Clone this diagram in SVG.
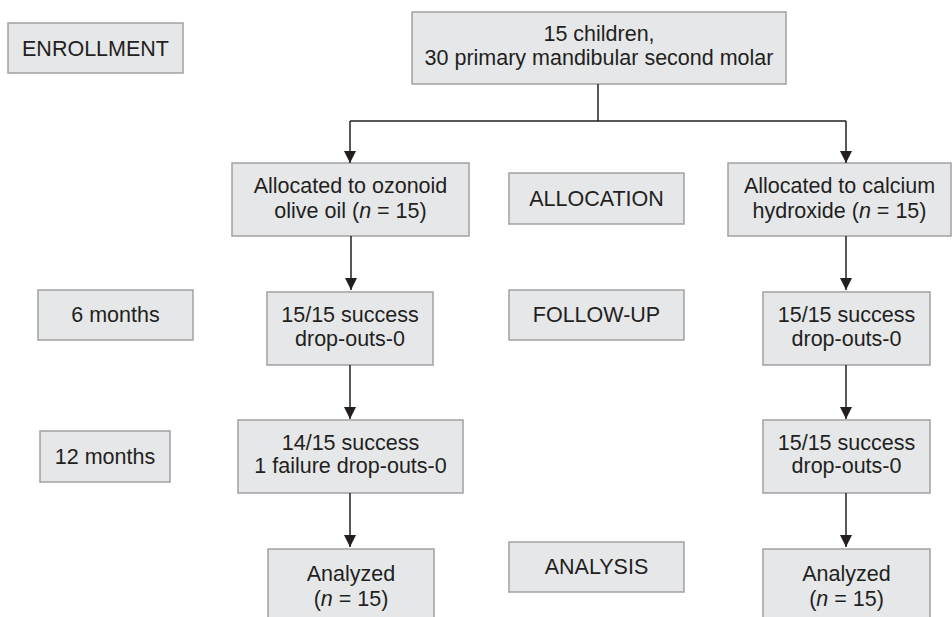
<svg xmlns="http://www.w3.org/2000/svg" width="952" height="617" viewBox="0 0 952 617">
<style>
.box{fill:#e6e7e9;stroke:#a0a1a3;stroke-width:1.5}
text{font-family:"Liberation Sans",Arial,sans-serif;font-size:21.5px;fill:#231f20;text-anchor:middle}
.ln{stroke:#231f20;stroke-width:1.5;fill:none}
</style>
<defs>
<marker id="ah" markerWidth="12" markerHeight="12" refX="12" refY="6" orient="auto" markerUnits="userSpaceOnUse">
<path d="M0,0 L12,6 L0,12 Z" fill="#231f20"/>
</marker>
</defs>
<g id="enrollment"><rect class="box" x="8" y="23" width="175" height="50"/><text x="95.5" y="56">ENROLLMENT</text></g>
<g id="top"><rect class="box" x="412" y="12" width="374" height="72"/><text x="599" y="41">15 children,</text><text x="599" y="65">30 primary mandibular second molar</text></g>
<g id="allocOzone"><rect class="box" x="232" y="163" width="237" height="73"/><text x="350.5" y="193">Allocated to ozonoid</text><text x="350.5" y="218">olive oil (<tspan font-style="italic">n</tspan> = 15)</text></g>
<g id="allocation"><rect class="box" x="509" y="173" width="175" height="51"/><text x="596.5" y="206">ALLOCATION</text></g>
<g id="allocCa"><rect class="box" x="728" y="163" width="223" height="73"/><text x="839.5" y="193">Allocated to calcium</text><text x="839.5" y="218">hydroxide (<tspan font-style="italic">n</tspan> = 15)</text></g>
<g id="six"><rect class="box" x="38" y="290" width="155" height="50"/><text x="115.5" y="322">6 months</text></g>
<g id="followup"><rect class="box" x="509" y="290" width="175" height="50"/><text x="596.5" y="322">FOLLOW-UP</text></g>
<g id="ozone6"><rect class="box" x="267" y="292" width="166" height="73"/><text x="350" y="322">15/15 success</text><text x="350" y="346">drop-outs-0</text></g>
<g id="ca6"><rect class="box" x="763" y="292" width="167" height="73"/><text x="846.5" y="322">15/15 success</text><text x="846.5" y="346">drop-outs-0</text></g>
<g id="twelve"><rect class="box" x="40" y="431" width="130" height="51"/><text x="105" y="464">12 months</text></g>
<g id="ozone12"><rect class="box" x="238" y="420" width="225" height="73"/><text x="350.5" y="450">14/15 success</text><text x="350.5" y="473">1 failure drop-outs-0</text></g>
<g id="ca12"><rect class="box" x="763" y="420" width="167" height="73"/><text x="846.5" y="450">15/15 success</text><text x="846.5" y="473">drop-outs-0</text></g>
<g id="analysis"><rect class="box" x="509" y="542" width="175" height="50"/><text x="596.5" y="574">ANALYSIS</text></g>
<g id="ozoneAn"><rect class="box" x="268" y="549" width="166" height="80"/><text x="351" y="581">Analyzed</text><text x="351" y="606">(<tspan font-style="italic">n</tspan> = 15)</text></g>
<g id="caAn"><rect class="box" x="763" y="549" width="167" height="80"/><text x="846.5" y="581">Analyzed</text><text x="846.5" y="606">(<tspan font-style="italic">n</tspan> = 15)</text></g>
<g id="connectors">
<path class="ln" d="M598,84 V121"/>
<path class="ln" d="M350,121 H846"/>
<path class="ln" d="M350,121 V163" marker-end="url(#ah)"/>
<path class="ln" d="M846,121 V163" marker-end="url(#ah)"/>
<path class="ln" d="M351,236 V290" marker-end="url(#ah)"/>
<path class="ln" d="M846,236 V290" marker-end="url(#ah)"/>
<path class="ln" d="M350,365 V419" marker-end="url(#ah)"/>
<path class="ln" d="M846,365 V419" marker-end="url(#ah)"/>
<path class="ln" d="M350,493 V547" marker-end="url(#ah)"/>
<path class="ln" d="M846,493 V547" marker-end="url(#ah)"/>
</g>
</svg>
